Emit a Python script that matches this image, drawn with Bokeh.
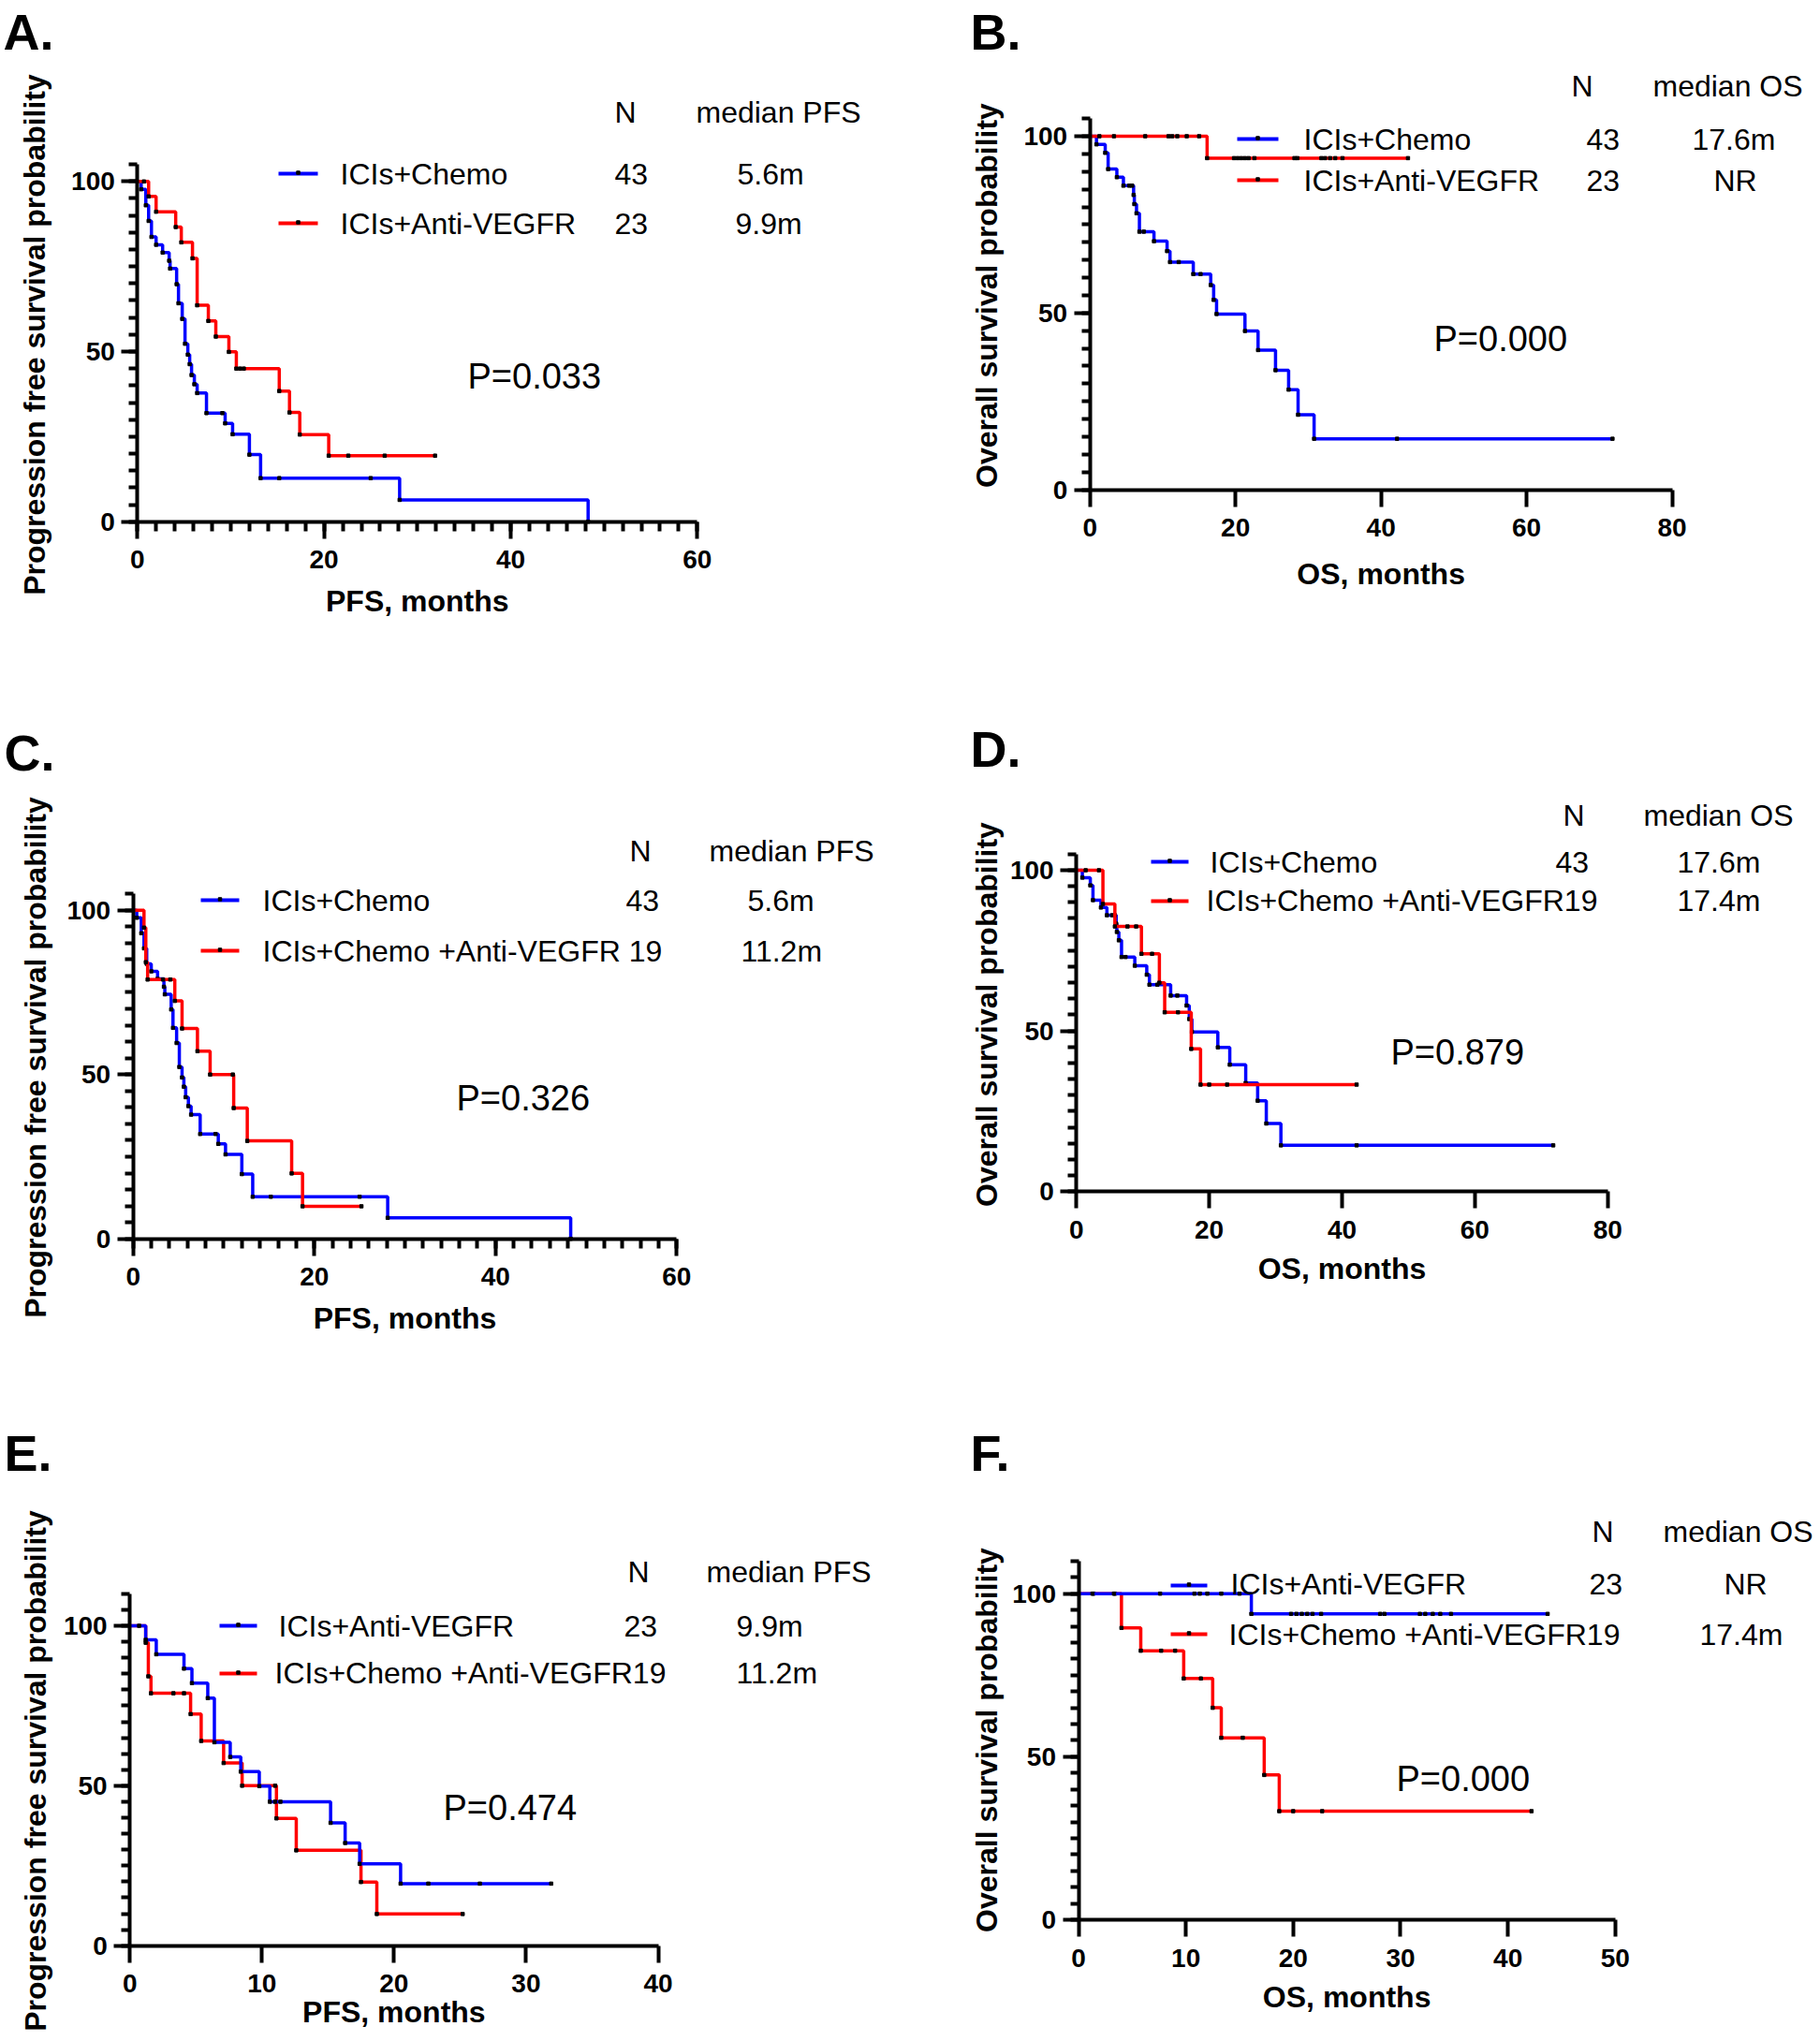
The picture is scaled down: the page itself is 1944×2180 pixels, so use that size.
import numpy as np
from bokeh.plotting import figure
from bokeh.layouts import column, row
from bokeh.models import Range1d, FixedTicker, Label
from bokeh.embed import file_html
from bokeh.resources import INLINE

# ---------------- data ----------------
# PFS, ICIs+Chemo (N=43)
pfs_chemo_t = [0.4, 0.9, 1.2, 1.5, 2.0, 2.7, 3.4, 3.5, 4.2, 4.4, 4.8, 5.1, 5.4, 5.6, 5.8,
               6.1, 6.4, 7.4, 9.4, 10.2, 12.0, 13.2, 28.1, 48.3]
pfs_chemo_s = [97.7, 93.0, 88.4, 83.7, 81.4, 79.1, 76.7, 74.4, 69.8, 64.2, 59.6, 52.3, 49.1,
               46.3, 43.1, 40.4, 37.8, 31.9, 28.9, 25.7, 19.7, 12.8, 6.4, 0.0]
pfs_chemo_c = [9.1, 15.2, 25.0]

# PFS, ICIs+Anti-VEGFR (N=23)
pfs_vegfr_t = [1.2, 2.0, 4.1, 4.7, 5.9, 6.4, 7.6, 8.4, 9.8, 10.6, 15.2, 16.3, 17.4, 20.5]
pfs_vegfr_s = [95.6, 91.1, 86.6, 82.1, 77.4, 63.6, 59.0, 54.4, 49.9, 45.0, 38.4, 32.1, 25.6, 19.4]
pfs_vegfr_c = [0.7, 11.0, 11.4, 22.6, 26.5, 31.9]

# PFS, ICIs+Chemo+Anti-VEGFR (N=19)
pfs_combo_t = [1.2, 1.4, 1.6, 4.6, 5.4, 7.1, 8.5, 11.1, 12.6, 17.5, 18.7]
pfs_combo_s = [94.7, 84.2, 78.9, 72.4, 64.0, 57.1, 50.0, 39.8, 29.8, 19.9, 9.9]
pfs_combo_c = [3.3, 4.1, 11.0, 25.2]

# OS, ICIs+Chemo (N=43)
os_chemo_t = [0.9, 2.1, 2.5, 3.7, 4.6, 6.0, 6.1, 6.4, 6.8, 8.8, 10.6, 11.0, 14.2, 16.6, 17.0,
              17.4, 21.3, 23.1, 25.5, 27.3, 28.6, 30.8]
os_chemo_s = [97.7, 95.3, 90.7, 88.4, 86.0, 83.4, 80.8, 78.2, 73.0, 70.3, 67.5, 64.4, 61.0,
              57.9, 53.7, 49.7, 44.9, 39.5, 33.8, 28.3, 21.2, 14.4]
os_chemo_c = [5.4, 5.8, 7.4, 12.2, 15.2, 42.2, 71.8]

# OS, ICIs+Anti-VEGFR (N=23)
os_vegfr_t = [16.1]
os_vegfr_s = [93.8]
os_vegfr_c = [1.3, 3.3, 7.6, 10.8, 11.3, 12.0, 13.3, 15.0, 19.8, 20.3, 20.8, 21.3, 21.8, 22.6,
              28.1, 28.5, 31.8, 32.3, 33.0, 33.7, 34.7, 43.7]

# OS, ICIs+Chemo+Anti-VEGFR (N=19)
os_combo_t = [4.0, 5.8, 9.8, 12.5, 13.3, 17.3, 18.7]
os_combo_s = [89.5, 82.5, 74.0, 65.0, 55.8, 44.4, 33.3]
os_combo_c = [1.4, 3.4, 7.7, 9.0, 11.4, 15.3, 20.0, 22.7, 42.2]

y_major = [0, 50, 100]
pfs_label = "Progression free survival probability"
os_label = "Overall survival probability"
pfs_ticks = [0, 20, 40, 60]
pfs_minor = list(range(0, 61, 2))
os_ticks = [0, 20, 40, 60, 80]
e_ticks = [0, 10, 20, 30, 40]
f_ticks = [0, 10, 20, 30, 40, 50]

BLUE = "#0000ff"
RED = "#ff0000"
FONT = "Liberation Sans"
TXT = 32    # legend / header text size (px)
PV = 38     # p-value text size (px)
TITLE = 32  # axis title size (px)
LET = 54    # panel letter size (px)
K = 0.37    # baseline correction (fraction of font size)


def km_xy(t, s, c):
    end = max(t[-1], max(c)) if c else t[-1]
    xs = [0.0] + list(t)
    ys = [100.0] + list(s)
    if end > t[-1]:
        xs.append(end)
        ys.append(s[-1])
    return xs, ys


def level_at(t, s, x):
    idx = int(np.searchsorted(np.asarray(t), x, side="right"))
    return 100.0 if idx == 0 else s[idx - 1]


def make_panel(fig, anchors, xmax, ymax, curves, x_major, x_minor, texts, legend_rows,
               xtitle, xtitle_base, ytitle, ytitle_x, ytitle_c):
    L, T, W, H = fig
    x0, xe, y0, y100 = anchors          # page pixel of x=0, x=xmax, y=0, y=100
    sx = (xe - x0) / xmax
    sy = (y0 - y100) / 100.0

    def dx(X):
        return (X - x0) / sx

    def dy(Y):
        return (y0 - Y) / sy

    p = figure(width=W, height=H, x_range=Range1d(dx(L), dx(L + W)),
               y_range=Range1d(dy(T + H), dy(T)), output_backend="svg",
               toolbar_location=None, min_border=0)
    p.title.visible = False
    p.outline_line_color = None
    p.xgrid.visible = False
    p.ygrid.visible = False
    p.background_fill_color = "white"
    p.border_fill_color = "white"

    p.xaxis.ticker = FixedTicker(ticks=x_major, minor_ticks=x_minor)
    p.yaxis.ticker = FixedTicker(ticks=y_major, minor_ticks=list(range(0, ymax + 1, 5)))
    p.xaxis.fixed_location = 0
    p.yaxis.fixed_location = 0
    p.xaxis.bounds = (0, xmax)
    p.yaxis.bounds = (0, ymax)
    for ax in (p.xaxis[0], p.yaxis[0]):
        ax.axis_line_width = 4
        ax.axis_line_color = "black"
        ax.major_tick_line_width = 4
        ax.minor_tick_line_width = 4
        ax.major_tick_line_color = "black"
        ax.minor_tick_line_color = "black"
        ax.major_tick_in = 0
        ax.minor_tick_in = 0
        ax.major_label_text_font = FONT
        ax.major_label_text_font_style = "bold"
        ax.major_label_text_font_size = "28px"
        ax.major_label_text_color = "black"
    p.xaxis.major_tick_out = 18
    p.xaxis.minor_tick_out = 10
    p.xaxis.major_label_standoff = 13
    p.yaxis.major_tick_out = 17
    p.yaxis.minor_tick_out = 9
    p.yaxis.major_label_standoff = 7

    for (t, s, c, col) in curves:
        xs, ys = km_xy(t, s, c)
        p.step(xs, ys, mode="after", line_color=col, line_width=3.5)
        mx = list(t) + list(c)
        my = list(s) + [level_at(t, s, cc) for cc in c]
        p.scatter(mx, my, marker="square", size=3.5, color="black")

    for (x1, x2, yy, col) in legend_rows:
        p.segment(x0=[dx(x1)], y0=[dy(yy)], x1=[dx(x2)], y1=[dy(yy)], line_color=col, line_width=4)
        p.scatter([dx((x1 + x2) / 2)], [dy(yy - 1)], marker="square", size=3.5, color="black")

    for (X, Y, txt, size, bold) in texts:
        p.add_layout(Label(x=dx(X), y=dy(Y - K * size), text=txt, text_font=FONT,
                           text_font_size=f"{size}px",
                           text_font_style="bold" if bold else "normal",
                           text_color="black", text_baseline="alphabetic", text_align="left"))

    # axis titles
    p.add_layout(Label(x=xmax / 2, y=dy(xtitle_base - K * TITLE), text=xtitle, text_font=FONT,
                       text_font_size=f"{TITLE}px", text_font_style="bold", text_color="black",
                       text_align="center", text_baseline="alphabetic"))
    p.add_layout(Label(x=dx(ytitle_x - K * TITLE), y=dy(ytitle_c), text=ytitle, text_font=FONT,
                       text_font_size=f"{TITLE}px", text_font_style="bold", text_color="black",
                       text_align="center", text_baseline="alphabetic", angle=np.pi / 2))
    return p


pA = make_panel(
    (0, 0, 1000, 712), (146.3, 744.3, 556.7, 193.3), 60, 105,
    [(pfs_chemo_t, pfs_chemo_s, pfs_chemo_c, BLUE), (pfs_vegfr_t, pfs_vegfr_s, pfs_vegfr_c, RED)],
    pfs_ticks, pfs_minor,
    [(3, 53, "A.", LET, True), (656, 131, "N", TXT, False), (743, 131, "median PFS", TXT, False),
     (363, 197, "ICIs+Chemo", TXT, False), (656, 197, "43", TXT, False), (787, 197, "5.6m", TXT, False),
     (363, 250, "ICIs+Anti-VEGFR", TXT, False), (656, 250, "23", TXT, False), (785, 250, "9.9m", TXT, False),
     (499, 416, "P=0.033", PV, False)],
    [(297, 339, 185, BLUE), (297, 339, 238, RED)],
    "PFS, months", 653, pfs_label, 48, 357)

pB = make_panel(
    (1000, 0, 944, 712), (1163.7, 1785.6, 522.5, 145.0), 80, 105,
    [(os_chemo_t, os_chemo_s, os_chemo_c, BLUE), (os_vegfr_t, os_vegfr_s, os_vegfr_c, RED)],
    os_ticks, [],
    [(1036, 53, "B.", LET, True), (1678, 103, "N", TXT, False), (1765, 103, "median OS", TXT, False),
     (1392, 160, "ICIs+Chemo", TXT, False), (1694, 160, "43", TXT, False), (1807, 160, "17.6m", TXT, False),
     (1392, 204, "ICIs+Anti-VEGFR", TXT, False), (1694, 204, "23", TXT, False), (1830, 204, "NR", TXT, False),
     (1531, 376, "P=0.000", PV, False)],
    [(1321, 1365, 148, BLUE), (1321, 1365, 192, RED)],
    "OS, months", 624, os_label, 1065, 315)

pC = make_panel(
    (0, 712, 1000, 750), (141.7, 722.3, 1322.7, 971.7), 60, 105,
    [(pfs_chemo_t, pfs_chemo_s, pfs_chemo_c, BLUE), (pfs_combo_t, pfs_combo_s, pfs_combo_c, RED)],
    pfs_ticks, pfs_minor,
    [(4, 823, "C.", LET, True), (672, 920, "N", TXT, False), (757, 920, "median PFS", TXT, False),
     (280, 973, "ICIs+Chemo", TXT, False), (668, 973, "43", TXT, False), (798, 973, "5.6m", TXT, False),
     (280, 1027, "ICIs+Chemo +Anti-VEGFR 19", TXT, False),
     (791, 1027, "11.2m", TXT, False),
     (487, 1187, "P=0.326", PV, False)],
    [(214, 255, 961, BLUE), (214, 255, 1015, RED)],
    "PFS, months", 1419, pfs_label, 49, 1129)

pD = make_panel(
    (1000, 712, 944, 750), (1149.2, 1716.7, 1272.3, 929.0), 80, 105,
    [(os_chemo_t, os_chemo_s, os_chemo_c, BLUE), (os_combo_t, os_combo_s, os_combo_c, RED)],
    os_ticks, [],
    [(1036, 819, "D.", LET, True), (1669, 882, "N", TXT, False), (1755, 882, "median OS", TXT, False),
     (1292, 932, "ICIs+Chemo", TXT, False), (1661, 932, "43", TXT, False), (1791, 932, "17.6m", TXT, False),
     (1288, 973, "ICIs+Chemo +Anti-VEGFR19", TXT, False),
     (1791, 973, "17.4m", TXT, False),
     (1485, 1138, "P=0.879", PV, False)],
    [(1229, 1269, 920, BLUE), (1229, 1269, 962, RED)],
    "OS, months", 1366, os_label, 1065, 1083)

pE = make_panel(
    (0, 1462, 1000, 714), (138.2, 702.5, 2077.7, 1736.0), 40, 110,
    [(pfs_combo_t, pfs_combo_s, pfs_combo_c, RED), (pfs_vegfr_t, pfs_vegfr_s, pfs_vegfr_c, BLUE)],
    e_ticks, [],
    [(4, 1571, "E.", LET, True), (670, 1690, "N", TXT, False), (754, 1690, "median PFS", TXT, False),
     (297, 1748, "ICIs+Anti-VEGFR", TXT, False), (666, 1748, "23", TXT, False), (786, 1748, "9.9m", TXT, False),
     (293, 1798, "ICIs+Chemo +Anti-VEGFR19", TXT, False),
     (786, 1798, "11.2m", TXT, False),
     (473, 1945, "P=0.474", PV, False)],
    [(234, 274, 1736, BLUE), (234, 274, 1787, RED)],
    "PFS, months", 2160, pfs_label, 49, 1891)

pF = make_panel(
    (1000, 1462, 944, 714), (1151.5, 1724.8, 2050.0, 1701.7), 50, 110,
    [(os_combo_t, os_combo_s, os_combo_c, RED), (os_vegfr_t, os_vegfr_s, os_vegfr_c, BLUE)],
    f_ticks, [],
    [(1036, 1571, "F.", LET, True), (1700, 1647, "N", TXT, False), (1776, 1647, "median OS", TXT, False),
     (1314, 1703, "ICIs+Anti-VEGFR", TXT, False), (1697, 1703, "23", TXT, False), (1841, 1703, "NR", TXT, False),
     (1312, 1757, "ICIs+Chemo +Anti-VEGFR19", TXT, False),
     (1815, 1757, "17.4m", TXT, False),
     (1491, 1914, "P=0.000", PV, False)],
    [(1250, 1289, 1693, BLUE), (1250, 1289, 1745, RED)],
    "OS, months", 2144, os_label, 1065, 1858)

layout = column(row(pA, pB), row(pC, pD), row(pE, pF))
open("out.html", "w").write(file_html(layout, INLINE))
